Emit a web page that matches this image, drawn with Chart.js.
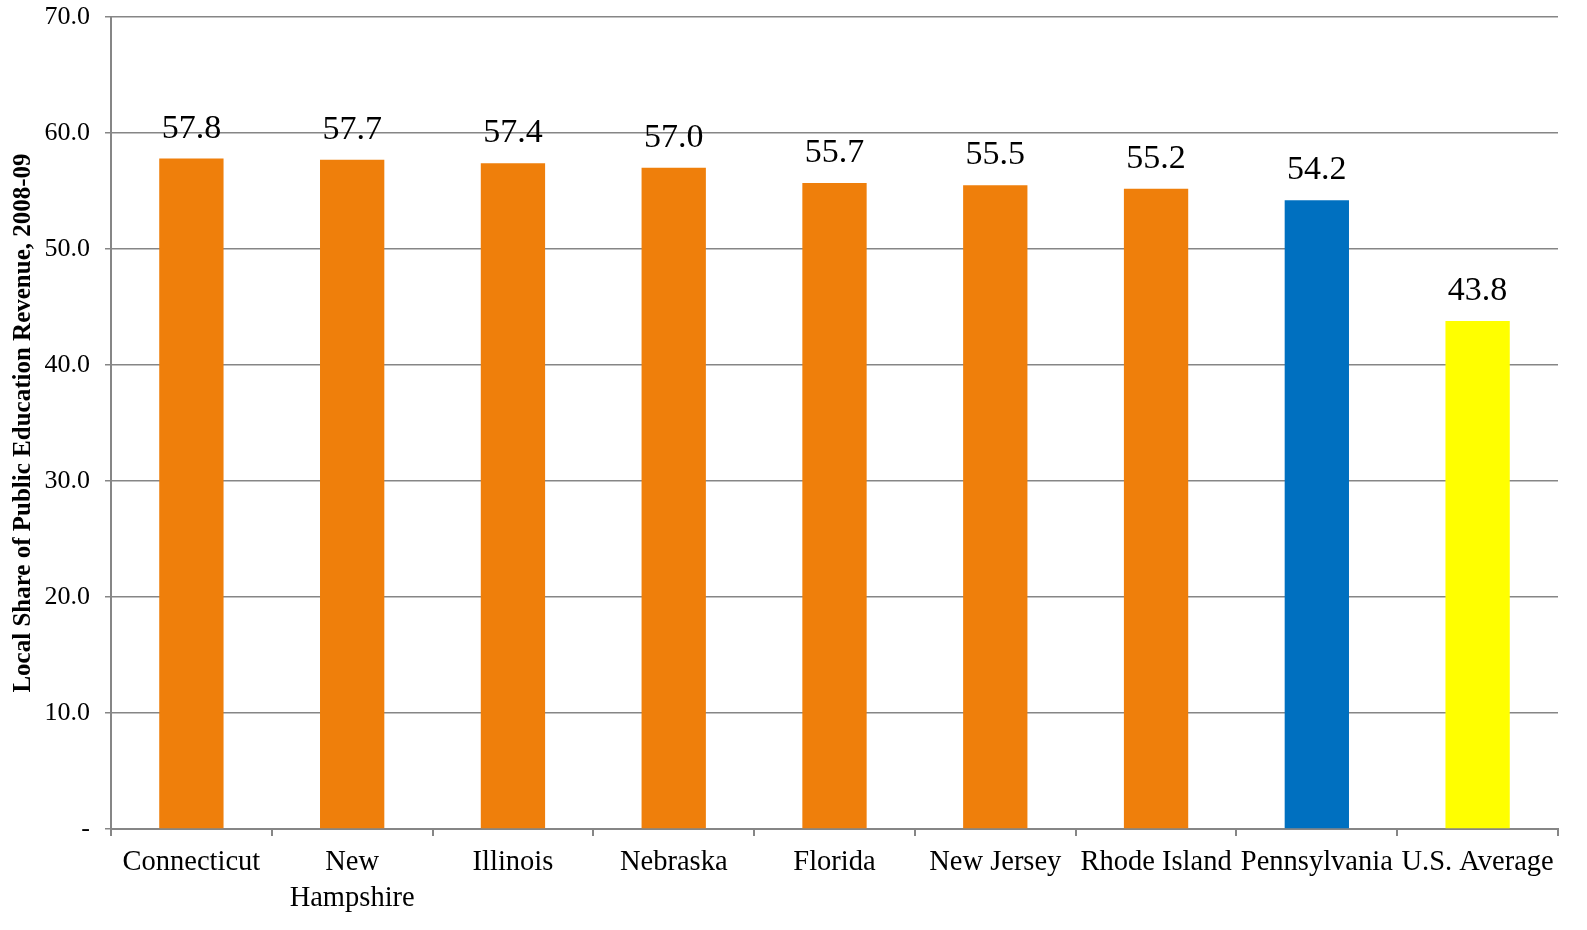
<!DOCTYPE html>
<html>
<head>
<meta charset="utf-8">
<script src="https://cdn.jsdelivr.net/npm/chart.js@4"></script>
<style>
html,body{margin:0;padding:0;background:#fff;overflow:hidden;}
#wrap{width:1587px;height:930px;}
canvas{display:block;}
</style>
</head>
<body>
<div id="wrap"><canvas id="c" width="1587" height="930"></canvas></div>
<script>
const categories = ['Connecticut', ['New', 'Hampshire'], 'Illinois', 'Nebraska', 'Florida', 'New Jersey', 'Rhode Island', 'Pennsylvania', 'U.S. Average'];
const values = [57.8, 57.7, 57.4, 57.0, 55.7, 55.5, 55.2, 54.2, 43.8];
const barColors = ['#EF7F0B', '#EF7F0B', '#EF7F0B', '#EF7F0B', '#EF7F0B', '#EF7F0B', '#EF7F0B', '#0070C0', '#FFFF00'];
const yAxisTitle = 'Local Share of Public Education Revenue, 2008-09';

const FONT = '"Liberation Serif", "DejaVu Serif", serif';

const labelPlugin = {
  id: 'valueLabels',
  afterDatasetsDraw(chart) {
    const ctx = chart.ctx;
    const meta = chart.getDatasetMeta(0);
    ctx.save();
    ctx.font = '34px ' + FONT;
    ctx.fillStyle = '#000';
    ctx.textAlign = 'center';
    ctx.textBaseline = 'alphabetic';
    meta.data.forEach((bar, i) => {
      ctx.fillText(values[i].toFixed(1), bar.x, bar.y - 21);
    });
    ctx.restore();
  }
};

new Chart(document.getElementById('c'), {
  type: 'bar',
  data: {
    labels: categories,
    datasets: [{
      data: values,
      backgroundColor: barColors,
      borderWidth: 0,
      categoryPercentage: 1.0,
      barPercentage: 0.4
    }]
  },
  options: {
    responsive: false,
    animation: false,
    devicePixelRatio: 1,
    layout: { padding: { top: 17, right: 29, left: 0, bottom: 0 } },
    plugins: { legend: { display: false }, tooltip: { enabled: false } },
    scales: {
      x: {
        grid: { display: true, drawOnChartArea: false, drawTicks: true, tickLength: 7, color: '#868686', lineWidth: 2, offset: true },
        border: { display: true, color: '#868686', width: 2 },
        ticks: { color: '#000', font: { family: FONT, size: 28.5, lineHeight: 1.28 }, padding: 8, maxRotation: 0, autoSkip: false },
        afterFit(scale) { scale.height = 101; }
      },
      y: {
        min: 0, max: 70,
        ticks: {
          stepSize: 10, color: '#000', font: { family: FONT, size: 26, lineHeight: 0.1 }, padding: 15,
          callback: v => v === 0 ? '-' : v.toFixed(1)
        },
        grid: { color: '#868686', lineWidth: 1.5, tickLength: 6 },
        border: { display: true, color: '#868686', width: 2 },
        title: { display: true, text: yAxisTitle, color: '#000', font: { family: FONT, size: 25, weight: 'bold' }, padding: { top: 9, bottom: 0 } },
        afterFit(scale) { scale.width = 111; }
      }
    }
  },
  plugins: [labelPlugin]
});
</script>
</body>
</html>
